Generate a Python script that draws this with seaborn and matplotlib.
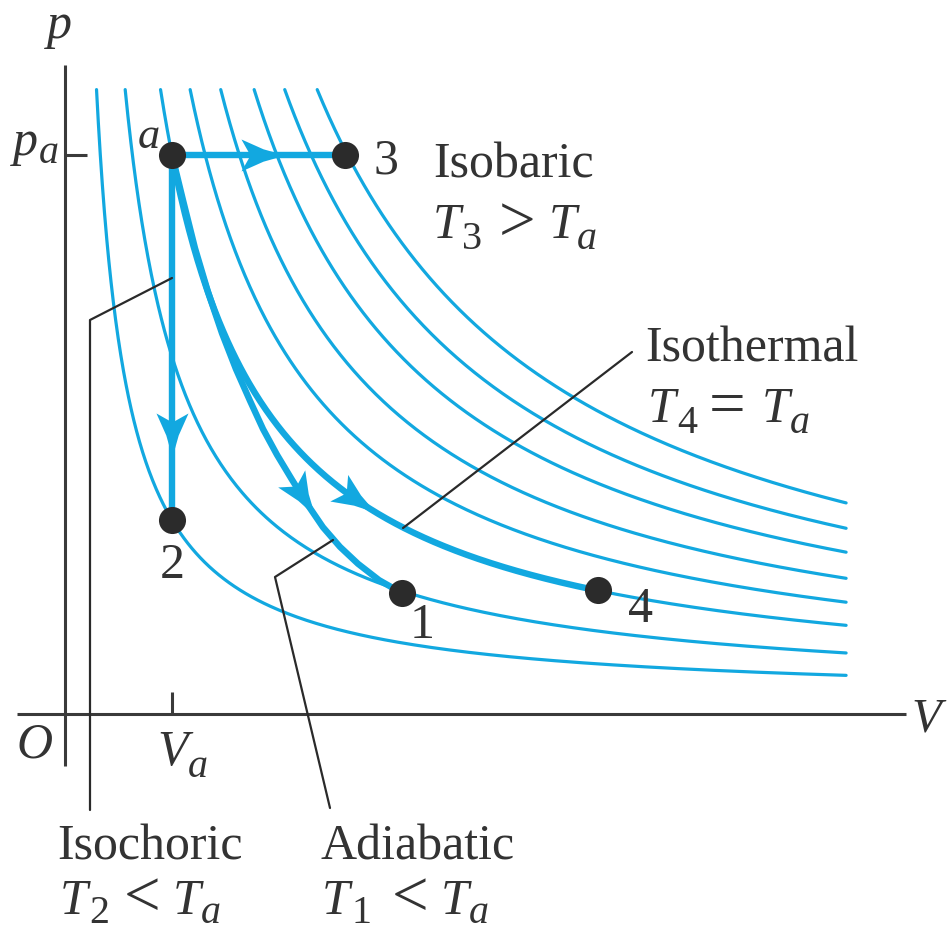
import numpy as np
import pandas as pd
import matplotlib
matplotlib.use("Agg")
import matplotlib.pyplot as plt
import seaborn as sns
from matplotlib.path import Path
from matplotlib.markers import MarkerStyle
from matplotlib.transforms import Affine2D

# ---------------- data ----------------
# isotherm temperatures in units of T_a (p*V = T, with p_a = V_a = 1)
isotherm_T = [0.33, 0.63, 1.00, 1.31, 1.63, 1.98, 2.30, 2.64]
curve_p_top = 1.12      # pressure where every isotherm starts (top)
curve_V_end = 7.30      # volume where every isotherm ends (right)
T_a = 1.00

# state points
state_labels = ["a", "3", "2", "1", "4"]
state_V = [1.00, 2.62, 1.00, 3.15, 4.98]
state_p = [1.00, 1.00, 0.33, 0.196, 0.201]

# adiabatic path a -> 1
adiabat_V = [1.000, 1.103, 1.215, 1.336, 1.467, 1.598, 1.729, 1.851, 1.981,
             2.122, 2.262, 2.411, 2.570, 2.738, 2.935, 3.150]
adiabat_p = [1.000, 0.917, 0.829, 0.749, 0.673, 0.607, 0.549, 0.497, 0.450,
             0.404, 0.360, 0.317, 0.281, 0.250, 0.220, 0.196]

# ---------------- style ----------------
CYAN = "#12a8e0"
DARK = "#333333"
sns.set_style("white")
plt.rcParams["font.family"] = ["Liberation Serif", "DejaVu Serif"]
plt.rcParams["mathtext.fontset"] = "custom"
plt.rcParams["mathtext.rm"] = "Liberation Serif"
plt.rcParams["mathtext.it"] = "Liberation Serif:italic"
plt.rcParams["mathtext.bf"] = "Liberation Serif:bold"

W, H = 947, 939
X0, XS, Y0, YS = 65.0, 107.0, 700.0, 545.0   # layout: pixel scale of the axes


def P(px, py):
    return (px - X0) / XS, (Y0 - py) / YS


fig = plt.figure(figsize=(W / 100, H / 100), dpi=100)
ax = fig.add_axes([0, 0, 1, 1])
ax.set_xlim(-X0 / XS, (W - X0) / XS)
ax.set_ylim((Y0 - H) / YS, Y0 / YS)
ax.set_axis_off()

# ---------------- isotherms ----------------
frames = []
for T in isotherm_T:
    V = np.geomspace(T / curve_p_top, curve_V_end, 400)
    frames.append(pd.DataFrame({"V": V, "p": T / V, "T": T}))
iso = pd.concat(frames, ignore_index=True)
sns.lineplot(data=iso, x="V", y="p", units="T", estimator=None, sort=False,
             color=CYAN, lw=2.3, ax=ax, legend=False, zorder=2)

# ---------------- processes ----------------
Va, pa = state_V[0], state_p[0]
lw_thick = 4.6
ax.plot([Va, state_V[1]], [pa, state_p[1]], color=CYAN, lw=lw_thick, zorder=3,
        solid_capstyle="butt")
ax.plot([Va, state_V[2]], [pa, state_p[2]], color=CYAN, lw=lw_thick, zorder=3,
        solid_capstyle="butt")
ax.plot(adiabat_V, adiabat_p, color=CYAN, lw=lw_thick, zorder=3,
        solid_joinstyle="round")
Vt = np.linspace(Va, state_V[4], 300)
ax.plot(Vt, T_a / Vt, color=CYAN, lw=lw_thick, zorder=3)

# ---------------- arrow heads ----------------
head = Path([(22, 0), (0, 6.2), (-22, 16), (-13, 0), (-22, -16), (0, -6.2), (22, 0)],
            [Path.MOVETO] + [Path.LINETO] * 5 + [Path.CLOSEPOLY])


def arrow(c, d):
    a0 = ax.transData.transform(c)
    a1 = ax.transData.transform(d)
    ang = np.degrees(np.arctan2(a1[1] - a0[1], a1[0] - a0[0]))
    m = MarkerStyle(head, transform=Affine2D().rotate_deg(ang))
    ax.plot([c[0]], [c[1]], marker=m, ms=31.7, color=CYAN, mew=0, zorder=4)


arrow((1.85, pa), (1.95, pa))
arrow((Va, 0.487), (Va, 0.40))
Vad = 2.22
arrow((Vad, np.interp(Vad, adiabat_V, adiabat_p)),
      (Vad + 0.05, np.interp(Vad + 0.05, adiabat_V, adiabat_p)))
arrow((2.73, T_a / 2.73), (2.78, T_a / 2.78))

# ---------------- state points ----------------
sns.scatterplot(x=state_V, y=state_p, s=380, color="#2b2b2b", linewidth=0,
                zorder=6, ax=ax, legend=False)

# ---------------- axes ----------------
ax_kw = dict(color="#3a3a3a", lw=2.2, zorder=1, solid_capstyle="butt")
ax.plot(*zip(P(17, 714), P(906, 714)), **ax_kw)
ax.plot(*zip(P(65, 65), P(65, 766)), **ax_kw)
ax.plot(*zip(P(172, 692), P(172, 714)), **ax_kw)
ax.plot(*zip(P(65, 155), P(87, 155)), **ax_kw)

# ---------------- leader lines ----------------
ld_kw = dict(color="#2a2a2a", lw=1.6, zorder=5)
ax.plot(*zip(P(172, 278), P(90, 320), P(90, 810)), **ld_kw)
ax.plot(*zip(P(333, 540), P(275, 577), P(330, 808)), **ld_kw)
ax.plot(*zip(P(403, 528), P(632, 352)), **ld_kw)

# ---------------- plain text ----------------
texts = [
    ("$p$", 58, 38, "center", 36),
    ("$a$", 148, 148, "center", 32),
    ("3", 373, 173, "left", 36),
    ("Isobaric", 433, 178, "left", 36),
    ("Isothermal", 645, 362, "left", 36),
    ("2", 172, 578, "center", 36),
    ("1", 422, 638, "center", 36),
    ("4", 628, 622, "left", 36),
    ("$O$", 34, 758, "center", 36),
    ("$V$", 911, 732, "left", 35),
    ("Isochoric", 57, 859, "left", 36),
    ("Adiabatic", 320, 859, "left", 36),
]
for s, px, py, ha, fs in texts:
    x, y = P(px, py)
    ax.text(x, y, s, ha=ha, va="baseline", fontsize=fs, color=DARK, zorder=7)

# ---------------- composed symbols with subscripts ----------------
renderer = fig.canvas.get_renderer()


def compose(px, py, pieces, base=36):
    x = px
    for s, it, sc, drop, gap in pieces:
        t = fig.text(x / W, 1 - (py + drop) / H, s, fontsize=base * sc,
                     style="italic" if it else "normal", color=DARK,
                     ha="left", va="baseline", zorder=7)
        bb = t.get_window_extent(renderer)
        x = bb.x1 + gap


SUB = 0.8
compose(13, 155, [("p", True, 1, 0, 1), ("a", True, SUB, 8, 0)])
compose(157, 765, [("V", True, 1, 0, 0), ("a", True, SUB, 12, 0)])
compose(433, 238, [("T", True, 1, 0, 1), ("3", False, SUB, 11, 17),
                   (">", False, 1.3, 3, 13), ("T", True, 1, 0, 1),
                   ("a", True, SUB, 11, 0)])
compose(648, 422, [("T", True, 1, 0, 1), ("4", False, SUB, 11, 12),
                   ("=", False, 1.3, 3, 16), ("T", True, 1, 0, 1),
                   ("a", True, SUB, 11, 0)])
compose(60, 914, [("T", True, 1, 0, 1), ("2", False, SUB, 9, 15),
                  ("<", False, 1.3, 2, 12), ("T", True, 1, 0, 1),
                  ("a", True, SUB, 9, 0)])
compose(322, 914, [("T", True, 1, 0, 2), ("1", False, SUB, 9, 20),
                   ("<", False, 1.3, 2, 12), ("T", True, 1, 0, 1),
                   ("a", True, SUB, 9, 0)])

fig.savefig("out.png", dpi=100)
